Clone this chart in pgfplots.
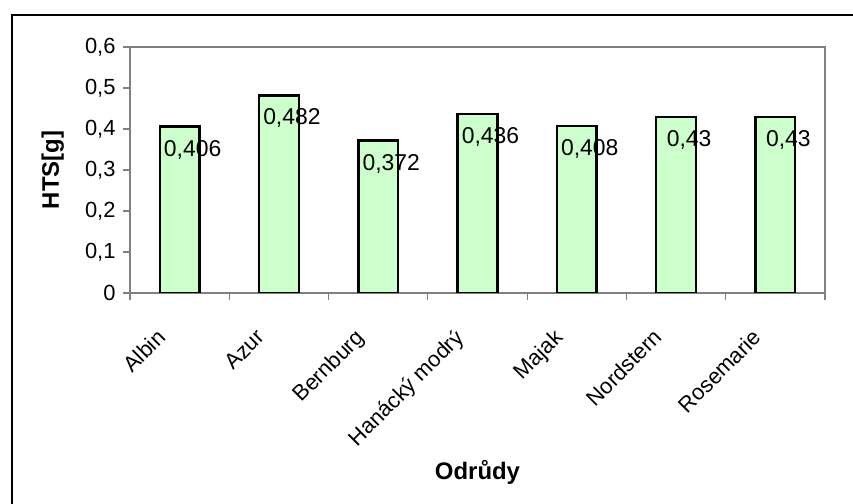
\documentclass[border=0pt]{standalone}
\usepackage{pgfplots}
\pgfplotsset{compat=1.18}
\usepackage{fontspec}
\setmainfont{Liberation Sans}
\definecolor{barfill}{HTML}{CCFFCC}
\definecolor{axgray}{HTML}{808080}
\begin{document}
\begin{tikzpicture}
\path[use as bounding box] (0bp,0bp) rectangle (853bp,504bp);
\draw[line width=2bp] (12bp,-3bp) -- (12bp,489bp) -- (856bp,489bp);
\begin{axis}[
  at={(130bp,211bp)}, anchor=south west,
  width=695bp, height=246bp, scale only axis,
  xmin=-0.5, xmax=6.5, ymin=0, ymax=0.6,
  enlarge x limits=false, enlarge y limits=false,
  ybar, bar width=0.4,
  /pgf/number format/assume math mode=true,
  /pgf/number format/use comma,
  every tick label/.append style={font=\fontsize{22}{26}\selectfont},
  ytick={0,0.1,0.2,0.3,0.4,0.5,0.6},
  yticklabel={\fontsize{22}{26}\selectfont\pgfmathprintnumber[fixed, precision=1, use comma]{\tick}},
  yticklabel style={xshift=-4bp},
  xtick={0,1,2,3,4,5,6},
  xticklabels={Albin,Azur,Bernburg,Hanácký modrý,Majak,Nordstern,Rosemarie},
  xticklabel style={xshift=-24bp, yshift=-23bp, rotate=45, anchor=north east},
  minor xtick={-0.5,0.5,1.5,2.5,3.5,4.5,5.5,6.5},
  major x tick style={draw=none},
  minor tick length=7bp, major tick length=7bp,
  tick align=outside,
  xtick pos=bottom, ytick pos=left,
  tick style={axgray, line width=1.2bp},
  axis line style={axgray, line width=1.5bp},
  ylabel={\textbf{HTS[g]}},
  xlabel={\textbf{Odrůdy}},
  ylabel style={font=\fontsize{24}{28}\selectfont, at={(axis description cs:-0.111,0.5)}, anchor=center},
  xlabel style={font=\fontsize{24}{28}\selectfont, at={(axis description cs:0.5,-0.728)}, anchor=center},
  nodes near coords={\pgfmathprintnumber[fixed, precision=3, use comma]{\pgfplotspointmeta}},
  every node near coord/.append style={font=\fontsize{23}{27}\selectfont, anchor=center, xshift=13bp, yshift=-23bp, text=black},
]
\addplot[fill=barfill, draw=black, line width=2.4bp] coordinates {
  (0,0.406) (1,0.482) (2,0.372) (3,0.436) (4,0.408) (5,0.43) (6,0.43)
};
\end{axis}
\end{tikzpicture}
\end{document}
